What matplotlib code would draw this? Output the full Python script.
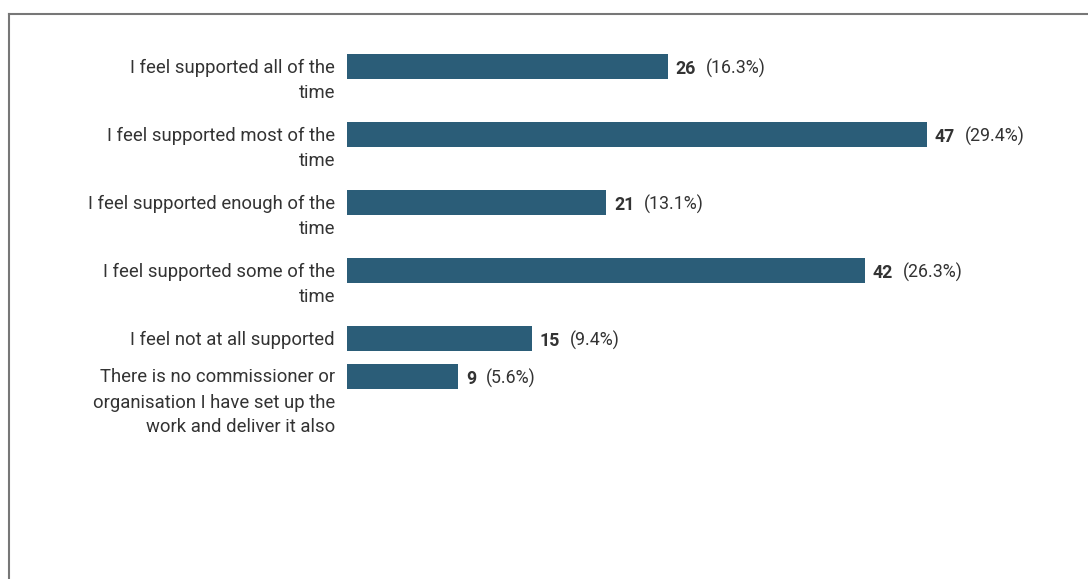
import matplotlib.pyplot as plt
from matplotlib.lines import Line2D

plt.rcParams['font.family'] = ['Roboto', 'DejaVu Sans']

categories = [
    "I feel supported all of the\ntime",
    "I feel supported most of the\ntime",
    "I feel supported enough of the\ntime",
    "I feel supported some of the\ntime",
    "I feel not at all supported",
    "There is no commissioner or\norganisation I have set up the\nwork and deliver it also",
]
counts = [26, 47, 21, 42, 15, 9]
percents = ["16.3%", "29.4%", "13.1%", "26.3%", "9.4%", "5.6%"]

bar_color = "#2b5d78"
text_color = "#333333"

W, H = 1088, 579
fig = plt.figure(figsize=(W / 100, H / 100), dpi=100)

# bars start at x=347px, ~12.33 px per respondent
x0 = 347
ax = fig.add_axes([x0 / W, 0, 1 - x0 / W, 1])
ax.set_xlim(0, (W - x0) / 12.33)
ax.set_ylim(H, 0)  # y in pixel rows, top down
ax.axis('off')

# row positions depend on how many lines the label wraps to
ys = []
y = 66.5
for cat in categories:
    ys.append(y)
    y += 7 + 30.5 * (cat.count("\n") + 1)

ax.barh(ys, counts, height=25, color=bar_color)

for cat, yc, n, p in zip(categories, ys, counts, percents):
    ax.annotate(cat, xy=(0, yc), xytext=(-12, 7.5), textcoords='offset pixels',
                ha='right', va='top', fontsize=13.3, color=text_color,
                linespacing=1.5)
    t = ax.annotate(str(n), xy=(n, yc), xytext=(8, -7.5), textcoords='offset pixels',
                    ha='left', va='baseline', fontsize=12.8, fontweight='bold',
                    color=text_color)
    # percent sits on the same baseline, just right of the bold count
    ax.annotate(f"({p})", xy=(1, yc), xycoords=(t, 'data'), xytext=(10, -7.5),
                textcoords='offset pixels', ha='left', va='baseline',
                fontsize=12.8, color=text_color)

# frame: only top and left edges visible
fig.add_artist(Line2D([8.5 / W, 8.5 / W], [0, 1 - 13.5 / H], color="#777777", lw=1.5,
                      transform=fig.transFigure))
fig.add_artist(Line2D([8.5 / W, 1], [1 - 13.5 / H, 1 - 13.5 / H], color="#777777", lw=1.5,
                      transform=fig.transFigure))

fig.savefig("out.png", dpi=100)
